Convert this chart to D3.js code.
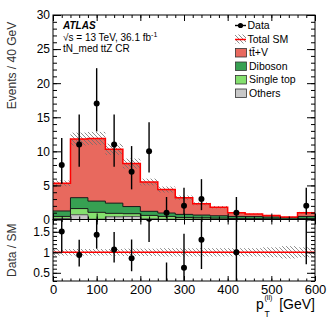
<!DOCTYPE html>
<html>
<head>
<meta charset="utf-8">
<script src="https://cdn.jsdelivr.net/npm/d3@7"></script>
<style>
  html, body { margin: 0; padding: 0; background: #fff; }
  svg { display: block; font-family: "Liberation Sans", Arial, Helvetica, sans-serif; }
</style>
</head>
<body>
<div id="chart"></div>
<script>
(function() {
  'use strict';
  var WIDTH = 332;
  var HEIGHT = 322;

  // bins of pT(ll), 40 GeV wide
  var binLow = [0, 40, 80, 120, 160, 200, 240, 280, 320, 360, 400, 440, 480, 520, 560];
  var binHigh = [40, 80, 120, 160, 200, 240, 280, 320, 360, 400, 440, 480, 520, 560, 600];

  // observed events and their (Poisson) error bars
  var dataCounts = [8, 11, 17, 11, 7, 10, 1, 2, 3, 0, 1, 0, 0, 0, 2];
  var dataErrLow = [2.77, 3.27, 4.08, 3.27, 2.58, 3.11, 0.83, 1.29, 1.63, 0, 0.83, 0, 0, 0, 1.29];
  var dataErrHigh = [3.95, 4.42, 5.2, 4.42, 3.77, 4.27, 2.3, 2.64, 2.92, 0, 2.3, 0, 0, 0, 2.64];

  // backgrounds (stacked bottom to top)
  var others = [0.15, 0.7, 0.05, 0.4, 0.45, 0.1, 0.05, 0.05, 0.05, 0.05, 0.05, 0.03, 0.03, 0.02, 0.05];
  var singleTop = [0.3, 0.9, 1.0, 0.5, 0.4, 0.5, 0.4, 0.25, 0.2, 0.15, 0.1, 0.1, 0.08, 0.05, 0.1];
  var diboson = [0.8, 1.6, 1.65, 1.5, 1.05, 0.6, 0.5, 0.45, 0.4, 0.35, 0.3, 0.3, 0.25, 0.2, 0.3];
  var ttV = [4.05, 8.6, 9.2, 7.9, 6.3, 4.3, 3.45, 2.45, 1.65, 1.25, 0.55, 0.37, 0.24, 0.08, 0.55];

  // relative uncertainty on total SM
  var smRelUnc = [0.08, 0.08, 0.08, 0.08, 0.09, 0.09, 0.1, 0.1, 0.1, 0.1, 0.1, 0.1, 0.12, 0.15, 0.12];

  var xTicks = [0, 100, 200, 300, 400, 500, 600];
  var yTicks = [0, 5, 10, 15, 20, 25, 30];
  var ratioTicks = [0.5, 1, 1.5];

  var legendNames = ['Data', 'Total SM', 'tt\u0304+V', 'Diboson', 'Single top', 'Others'];

  var layers = [
    {key: 'others', values: others, color: '#c8c8c8', line: '#555'},
    {key: 'singleTop', values: singleTop, color: '#84e06e', line: '#1a1a1a'},
    {key: 'diboson', values: diboson, color: '#37a052', line: '#1a1a1a'},
    {key: 'ttV', values: ttV, color: '#e8695e', line: '#ff0000'}
  ];

  var margin = {left: 53, right: 17, top: 15};
  var mainBottom = 219.5;
  var ratioBottom = 281;

  var x = d3.scaleLinear().domain([0, 600]).range([margin.left, WIDTH - margin.right]);
  var y = d3.scaleLinear().domain([0, 30]).range([mainBottom, margin.top]);
  var yr = d3.scaleLinear().domain([0.3, 1.8]).range([ratioBottom, mainBottom]);

  var svg = d3.select('#chart').append('svg')
    .attr('width', WIDTH)
    .attr('height', HEIGHT);

  var defs = svg.append('defs');
  var pat = defs.append('pattern')
    .attr('id', 'hatch')
    .attr('patternUnits', 'userSpaceOnUse')
    .attr('width', 4)
    .attr('height', 4);
  pat.append('path')
    .attr('d', 'M-1,-1 L5,5 M3,-1 L5,1 M-1,3 L1,5')
    .attr('stroke', '#6e6e6e')
    .attr('stroke-width', 0.8);

  defs.append('clipPath').attr('id', 'clipMain').append('rect')
    .attr('x', x(0)).attr('y', y(30)).attr('width', x(600) - x(0)).attr('height', y(0) - y(30));
  defs.append('clipPath').attr('id', 'clipRatio').append('rect')
    .attr('x', x(0)).attr('y', yr(1.8)).attr('width', x(600) - x(0)).attr('height', yr(0.3) - yr(1.8));

  var idx = d3.range(binLow.length);
  var totals = idx.map(function(i) { return others[i] + singleTop[i] + diboson[i] + ttV[i]; });

  // stack
  var rows = idx.map(function(i) {
    return {i: i, others: others[i], singleTop: singleTop[i], diboson: diboson[i], ttV: ttV[i]};
  });
  var stack = d3.stack().keys(layers.map(function(l) { return l.key; }))(rows);

  var gMain = svg.append('g').attr('clip-path', 'url(#clipMain)');

  function stepPoints(fn) {
    var pts = idx.map(function(i) { return [binLow[i], fn(i)]; });
    pts.push([binHigh[binHigh.length - 1], fn(idx.length - 1)]);
    return pts;
  }
  var stepLine = d3.line()
    .x(function(d) { return x(d[0]); })
    .y(function(d) { return y(d[1]); })
    .curve(d3.curveStepAfter);

  stack.forEach(function(series, k) {
    gMain.append('g').selectAll('rect')
      .data(series)
      .join('rect')
      .attr('x', function(d, i) { return x(binLow[i]); })
      .attr('width', function(d, i) { return x(binHigh[i]) - x(binLow[i]); })
      .attr('y', function(d) { return y(d[1]); })
      .attr('height', function(d) { return y(d[0]) - y(d[1]); })
      .attr('fill', layers[k].color)
      .attr('shape-rendering', 'crispEdges');
  });
  stack.forEach(function(series, k) {
    if (k === stack.length - 1) return;
    gMain.append('path')
      .attr('d', stepLine(stepPoints(function(i) { return series[i][1]; })))
      .attr('fill', 'none')
      .attr('stroke', layers[k].line)
      .attr('stroke-width', 1);
  });

  // uncertainty band
  gMain.append('g').selectAll('rect')
    .data(idx)
    .join('rect')
    .attr('x', function(i) { return x(binLow[i]); })
    .attr('width', function(i) { return x(binHigh[i]) - x(binLow[i]); })
    .attr('y', function(i) { return y(totals[i] * (1 + smRelUnc[i])); })
    .attr('height', function(i) { return y(totals[i] * (1 - smRelUnc[i])) - y(totals[i] * (1 + smRelUnc[i])); })
    .attr('fill', 'url(#hatch)');

  gMain.append('path')
    .attr('d', stepLine(stepPoints(function(i) { return totals[i]; })))
    .attr('fill', 'none')
    .attr('stroke', '#ff0000')
    .attr('stroke-width', 1.5);

  // data
  var shown = idx.filter(function(i) { return dataCounts[i] > 0; });
  var gData = svg.append('g');
  gData.selectAll('line')
    .data(shown)
    .join('line')
    .attr('x1', function(i) { return x((binLow[i] + binHigh[i]) / 2); })
    .attr('x2', function(i) { return x((binLow[i] + binHigh[i]) / 2); })
    .attr('y1', function(i) { return y(dataCounts[i] - dataErrLow[i]); })
    .attr('y2', function(i) { return y(dataCounts[i] + dataErrHigh[i]); })
    .attr('stroke', '#000')
    .attr('stroke-width', 1.4);
  gData.selectAll('circle')
    .data(shown)
    .join('circle')
    .attr('cx', function(i) { return x((binLow[i] + binHigh[i]) / 2); })
    .attr('cy', function(i) { return y(dataCounts[i]); })
    .attr('r', 3)
    .attr('fill', '#000');

  // ratio panel
  var gRatio = svg.append('g').attr('clip-path', 'url(#clipRatio)');
  gRatio.append('g').selectAll('rect')
    .data(idx)
    .join('rect')
    .attr('x', function(i) { return x(binLow[i]); })
    .attr('width', function(i) { return x(binHigh[i]) - x(binLow[i]); })
    .attr('y', function(i) { return yr(1 + smRelUnc[i]); })
    .attr('height', function(i) { return yr(1 - smRelUnc[i]) - yr(1 + smRelUnc[i]); })
    .attr('fill', 'url(#hatch)');
  gRatio.append('line')
    .attr('x1', x(0)).attr('x2', x(600))
    .attr('y1', yr(1)).attr('y2', yr(1))
    .attr('stroke', '#ff0000')
    .attr('stroke-width', 1.5);
  gRatio.append('g').selectAll('line')
    .data(shown)
    .join('line')
    .attr('x1', function(i) { return x((binLow[i] + binHigh[i]) / 2); })
    .attr('x2', function(i) { return x((binLow[i] + binHigh[i]) / 2); })
    .attr('y1', function(i) { return yr((dataCounts[i] - dataErrLow[i]) / totals[i]); })
    .attr('y2', function(i) { return yr((dataCounts[i] + dataErrHigh[i]) / totals[i]); })
    .attr('stroke', '#000')
    .attr('stroke-width', 1.4);
  gRatio.append('g').selectAll('circle')
    .data(shown)
    .join('circle')
    .attr('cx', function(i) { return x((binLow[i] + binHigh[i]) / 2); })
    .attr('cy', function(i) { return yr(dataCounts[i] / totals[i]); })
    .attr('r', 3)
    .attr('fill', '#000');

  // axes with inward ticks (ROOT style)
  function styleAxis(g, fontSize) {
    g.select('.domain').remove();
    g.selectAll('line').attr('stroke', '#000');
    g.selectAll('text').attr('font-size', fontSize).attr('fill', '#000')
      .attr('font-family', '"Liberation Sans", Arial, Helvetica, sans-serif');
  }
  function minorRange(a, b, step) {
    return d3.range(Math.round((b - a) / step) + 1).map(function(k) { return a + k * step; });
  }

  // main panel y
  svg.append('g').attr('transform', 'translate(' + x(0) + ',0)')
    .call(d3.axisLeft(y).tickValues(yTicks).tickSizeInner(-8).tickSizeOuter(0).tickPadding(3))
    .call(styleAxis, 12);
  svg.append('g').attr('transform', 'translate(' + x(0) + ',0)')
    .call(d3.axisLeft(y).tickValues(minorRange(0, 30, 1)).tickSize(-4).tickFormat(''))
    .call(styleAxis, 12);
  svg.append('g').attr('transform', 'translate(' + x(600) + ',0)')
    .call(d3.axisRight(y).tickValues(yTicks).tickSize(-8).tickFormat(''))
    .call(styleAxis, 12);
  svg.append('g').attr('transform', 'translate(' + x(600) + ',0)')
    .call(d3.axisRight(y).tickValues(minorRange(0, 30, 1)).tickSize(-4).tickFormat(''))
    .call(styleAxis, 12);

  // x ticks on both panels
  [[y(30), 'top', 6, 3], [mainBottom, 'bottom', 6, 3], [mainBottom, 'top', 5, 2.5], [ratioBottom, 'bottom', 5, 2.5]].forEach(function(p) {
    var ax = p[1] === 'top' ? d3.axisTop(x) : d3.axisBottom(x);
    var ax2 = p[1] === 'top' ? d3.axisTop(x) : d3.axisBottom(x);
    svg.append('g').attr('transform', 'translate(0,' + p[0] + ')')
      .call(ax.tickValues(xTicks).tickSize(-p[2]).tickFormat(''))
      .call(styleAxis, 12);
    svg.append('g').attr('transform', 'translate(0,' + p[0] + ')')
      .call(ax2.tickValues(minorRange(0, 600, 20)).tickSize(-p[3]).tickFormat(''))
      .call(styleAxis, 12);
  });
  svg.append('g').attr('transform', 'translate(0,' + ratioBottom + ')')
    .call(d3.axisBottom(x).tickValues(xTicks).tickSize(0).tickPadding(4).tickFormat(d3.format('d')))
    .call(styleAxis, 13);

  // ratio y
  svg.append('g').attr('transform', 'translate(' + x(0) + ',0)')
    .call(d3.axisLeft(yr).tickValues(ratioTicks).tickSizeInner(-8).tickSizeOuter(0).tickPadding(3)
      .tickFormat(function(d) { return String(d); }))
    .call(styleAxis, 12);
  svg.append('g').attr('transform', 'translate(' + x(0) + ',0)')
    .call(d3.axisLeft(yr).tickValues(minorRange(0.3, 1.8, 0.1)).tickSize(-4).tickFormat(''))
    .call(styleAxis, 12);
  svg.append('g').attr('transform', 'translate(' + x(600) + ',0)')
    .call(d3.axisRight(yr).tickValues(ratioTicks).tickSize(-8).tickFormat(''))
    .call(styleAxis, 12);
  svg.append('g').attr('transform', 'translate(' + x(600) + ',0)')
    .call(d3.axisRight(yr).tickValues(minorRange(0.3, 1.8, 0.1)).tickSize(-4).tickFormat(''))
    .call(styleAxis, 12);

  // frames
  svg.append('rect')
    .attr('x', x(0)).attr('y', y(30)).attr('width', x(600) - x(0)).attr('height', mainBottom - y(30))
    .attr('fill', 'none').attr('stroke', '#000').attr('stroke-width', 1);
  svg.append('rect')
    .attr('x', x(0)).attr('y', mainBottom).attr('width', x(600) - x(0)).attr('height', ratioBottom - mainBottom)
    .attr('fill', 'none').attr('stroke', '#000').attr('stroke-width', 1);

  // axis titles
  svg.append('text')
    .attr('transform', 'translate(16,' + y(29) + ') rotate(-90)')
    .attr('text-anchor', 'end')
    .attr('font-size', 12)
    .attr('fill', '#333')
    .text('Events / 40 GeV');
  svg.append('text')
    .attr('transform', 'translate(16,' + yr(1.05) + ') rotate(-90)')
    .attr('text-anchor', 'middle')
    .attr('font-size', 12)
    .attr('fill', '#333')
    .text('Data / SM');

  var xt = svg.append('g').attr('transform', 'translate(' + x(600) + ',309)');
  xt.append('text').attr('text-anchor', 'end').attr('font-size', 14).text('[GeV]');
  xt.append('text').attr('x', -59).attr('font-size', 14).text('p');
  xt.append('text').attr('x', -50.5).attr('y', 7.5).attr('font-size', 8.5).text('T');
  xt.append('text').attr('x', -50.5).attr('y', -9).attr('font-size', 7).text('(ll)');

  // ATLAS label
  var lab = svg.append('g').attr('transform', 'translate(63,0)');
  lab.append('text').attr('y', 29).attr('font-size', 10).attr('font-weight', 'bold')
    .attr('font-style', 'italic').text('ATLAS');
  var s2 = lab.append('text').attr('y', 41).attr('font-size', 10);
  s2.append('tspan').text('\u221As = 13 TeV, 36.1 fb');
  s2.append('tspan').attr('dy', -4).attr('font-size', 7).text('-1');
  lab.append('text').attr('y', 52).attr('font-size', 10).text('tN_med ttZ CR');

  // legend
  var leg = svg.append('g').attr('transform', 'translate(235,0)');
  var legY = [25.5, 39, 52.5, 66, 79.5, 93];
  legendNames.forEach(function(name, k) {
    var g = leg.append('g').attr('transform', 'translate(0,' + legY[k] + ')');
    if (k === 0) {
      g.append('line').attr('x1', 0).attr('x2', 11).attr('stroke', '#000').attr('stroke-width', 1.4);
      g.append('circle').attr('cx', 5.5).attr('r', 2.6).attr('fill', '#000');
    } else if (k === 1) {
      g.append('rect').attr('x', 0).attr('y', -4.5).attr('width', 11).attr('height', 9).attr('fill', 'url(#hatch)');
      g.append('line').attr('x1', 0).attr('x2', 11).attr('y1', 0.5).attr('y2', 0.5)
        .attr('stroke', '#ff0000').attr('stroke-width', 1.5);
    } else {
      var layer = layers[layers.length - 1 - (k - 2)];
      g.append('rect').attr('x', 0.5).attr('y', -4).attr('width', 11).attr('height', 8.5)
        .attr('fill', layer.color).attr('stroke', '#333').attr('stroke-width', 0.8);
    }
    g.append('text').attr('x', k < 2 ? 12.5 : 14).attr('y', 3.8).attr('font-size', 10.5).text(name);
  });
})();
</script>
</body>
</html>
